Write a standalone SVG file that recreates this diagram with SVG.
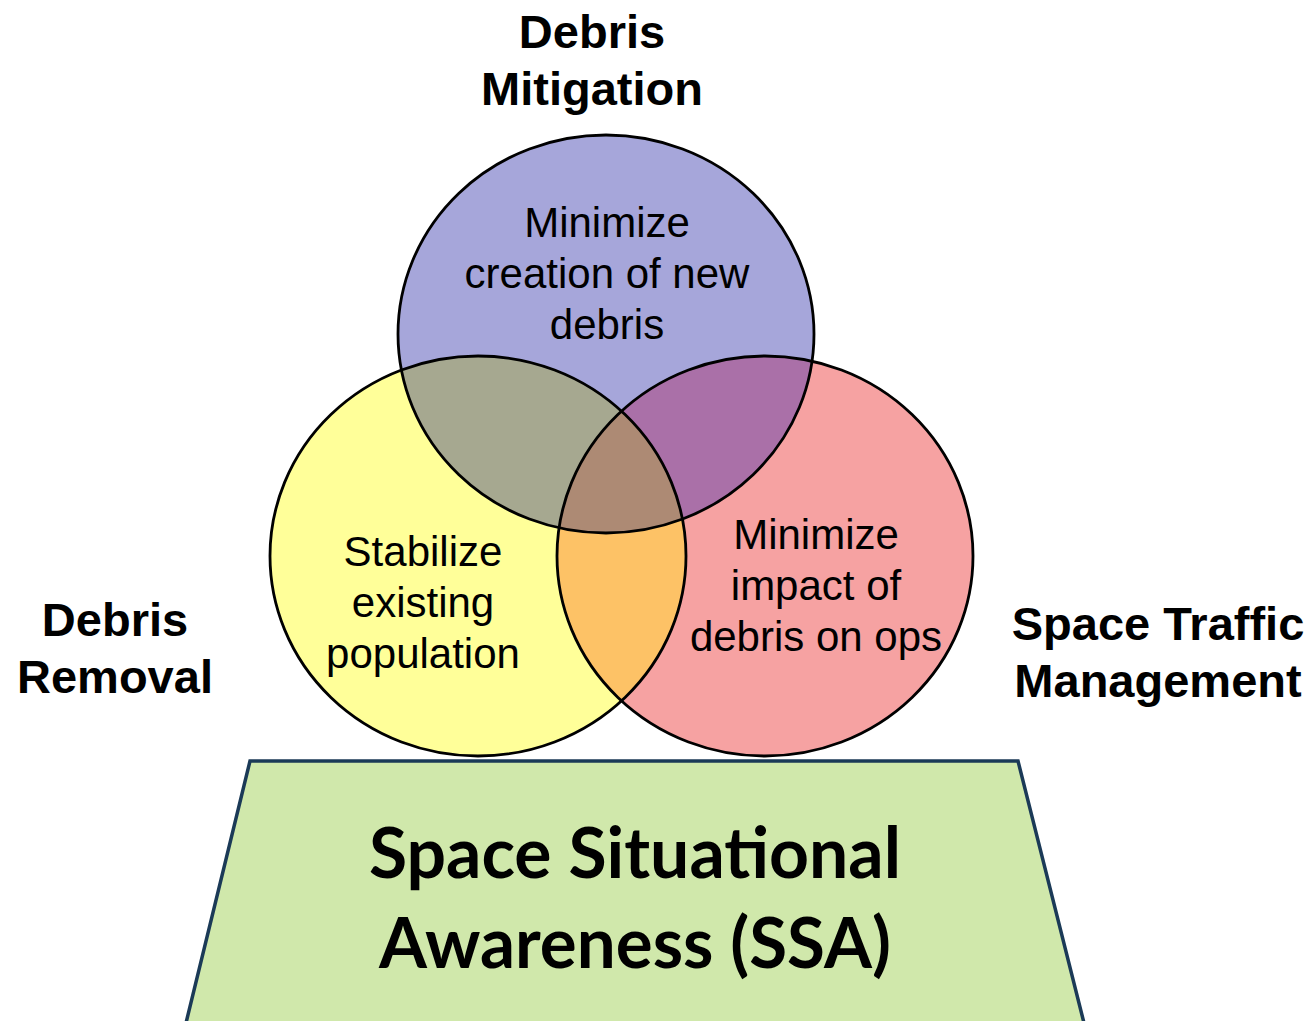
<svg xmlns="http://www.w3.org/2000/svg" width="1312" height="1021" viewBox="0 0 1312 1021">
<style>
.t{font-family:"Liberation Sans",Arial,sans-serif;font-size:42px;fill:#000;text-anchor:middle}
.h{font-family:"Liberation Sans",Arial,sans-serif;font-size:47px;font-weight:bold;fill:#000;text-anchor:middle}
.s{font-family:Lato,"Open Sans",sans-serif;font-size:70px;font-weight:bold;fill:#000;text-anchor:middle}
.ring{fill:none;stroke:#000;stroke-width:2.8}
</style>
<defs>
<ellipse id="Y" cx="478" cy="556" rx="208" ry="200"/>
<ellipse id="R" cx="765" cy="556" rx="208" ry="200"/>
<ellipse id="B" cx="606" cy="334" rx="208" ry="199"/>
<clipPath id="cY"><use href="#Y"/></clipPath>
<clipPath id="cR"><use href="#R"/></clipPath>
<clipPath id="cB"><use href="#B"/></clipPath>
</defs>
<rect width="1312" height="1021" fill="#fff"/>
<g id="ssa">
<polygon points="250,761 1018,761 1084,1023 186,1023" fill="#d0e8ab" stroke="#1b3a57" stroke-width="3.5"/>
<text class="s" x="635" y="878" textLength="532" lengthAdjust="spacingAndGlyphs">Space Situational</text>
<text class="s" x="635" y="968" textLength="512" lengthAdjust="spacingAndGlyphs">Awareness (SSA)</text>
</g>
<g id="fills">
<use href="#Y" fill="#ffff99"/>
<use href="#R" fill="#f6a2a2"/>
<use href="#B" fill="#a6a6da"/>
<use href="#Y" fill="#a6a890" clip-path="url(#cB)"/>
<use href="#R" fill="#aa70a8" clip-path="url(#cB)"/>
<use href="#Y" fill="#fdc266" clip-path="url(#cR)"/>
<g clip-path="url(#cR)"><use href="#Y" fill="#ad8a74" clip-path="url(#cB)"/></g>
</g>
<g id="debris-removal">
<use href="#Y" class="ring"/>
<text class="t" x="423" y="566">Stabilize</text>
<text class="t" x="423" y="617">existing</text>
<text class="t" x="423" y="668">population</text>
<text class="h" x="115" y="636">Debris</text>
<text class="h" x="115" y="693">Removal</text>
</g>
<g id="space-traffic-management">
<use href="#R" class="ring"/>
<text class="t" x="816" y="549">Minimize</text>
<text class="t" x="816" y="600">impact of</text>
<text class="t" x="816" y="651">debris on ops</text>
<text class="h" x="1158" y="640">Space Traffic</text>
<text class="h" x="1158" y="697">Management</text>
</g>
<g id="debris-mitigation">
<use href="#B" class="ring"/>
<text class="t" x="607" y="237">Minimize</text>
<text class="t" x="607" y="288">creation of new</text>
<text class="t" x="607" y="339">debris</text>
<text class="h" x="592" y="48">Debris</text>
<text class="h" x="592" y="105">Mitigation</text>
</g>
</svg>
